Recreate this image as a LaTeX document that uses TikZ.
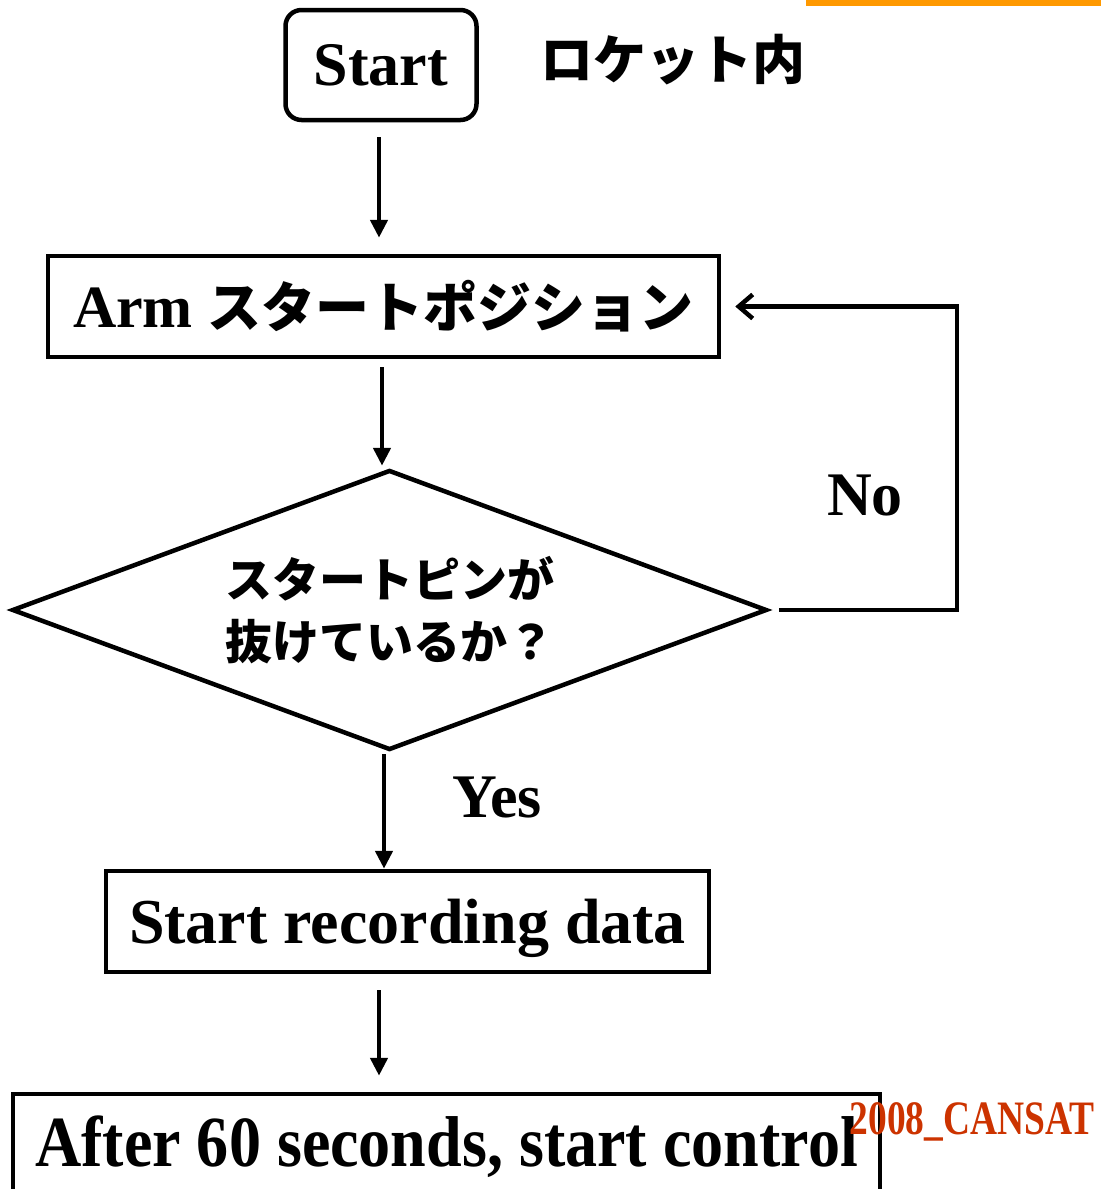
\documentclass[tikz,border=0pt]{standalone}
\usepackage{fontspec}
\setmainfont{Liberation Serif}
\newfontfamily\jp{Noto Sans CJK JP}
\newfontfamily\narrowserif[FakeStretch=0.89]{Liberation Serif}
\newfontfamily\tagserif[FakeStretch=0.78]{Liberation Serif}
\usetikzlibrary{shapes.geometric,arrows.meta}
\definecolor{barorange}{RGB}{255,153,0}
\definecolor{tagred}{RGB}{204,51,0}
\tikzset{
  box/.style={draw,line width=4.5pt,inner sep=0pt,font=\bfseries\fontsize{60}{60}\selectfont},
  flow/.style={line width=4.5pt,-{Triangle[length=18pt,width=17pt]}},
  back/.style={line width=4.5pt,-{Straight Barb[length=14pt,width=24pt,line width=4.5pt]}},
  lbl/.style={inner sep=0pt,font=\bfseries\fontsize{62}{62}\selectfont}
}
\begin{document}
\begin{tikzpicture}[x=1pt,y=-1pt]
\useasboundingbox (0,0) rectangle (1101,1189);
\clip (0,0) rectangle (1101,1189);
\fill[barorange] (806,0) rectangle (1101,6);
\node[box,rounded corners=16pt,minimum width=191pt,minimum height=110pt,font=\bfseries\fontsize{62}{62}\selectfont] (start) at (381,65) {Start};
\node[lbl,font=\jp\bfseries\fontsize{53}{53}\selectfont] (rocket) at (673,60) {ロケット内};
\node[box,minimum width=671pt,minimum height=101pt] (arm) at (383.5,306.5) {Arm {\jp\bfseries\fontsize{54}{54}\selectfont スタートポジション}};
\node[draw,diamond,shape aspect=2.7,line width=4.5pt,inner sep=0pt,minimum width=755pt,minimum height=280pt,align=center,font=\jp\bfseries\fontsize{47}{62}\selectfont] (dec) at (389.5,610) {スタートピンが\\抜けているか？};
\node[lbl] (no) at (865,495) {No};
\node[lbl] (yes) at (497,797) {Yes};
\node[box,minimum width=603pt,minimum height=101pt,text depth=0pt,font=\bfseries\fontsize{64}{64}\selectfont] (rec) at (407.5,921.5) {Start recording data};
\node[draw,line width=4.5pt,inner sep=0pt,minimum width=867pt,minimum height=106pt,font=\narrowserif\bfseries\fontsize{72}{72}\selectfont] (ctrl) at (446.5,1147) {After 60 seconds, start control};
\node[inner sep=0pt,text=tagred,font=\tagserif\bfseries\fontsize{48}{48}\selectfont] (tag) at (972,1122) {2008\_CANSAT};
\draw[flow,shorten <=15pt,shorten >=16pt] (start.south -| 379,0) -- (arm.north -| 379,0);
\draw[flow,shorten <=8pt,shorten >=2pt] (arm.south -| 382,0) -- (dec.north -| 382,0);
\draw[flow,shorten <=2pt,shorten >=0pt] (dec.south -| 384,0) -- (rec.north -| 384,0);
\draw[flow,shorten <=16pt,shorten >=16pt] (rec.south -| 379,0) -- (ctrl.north -| 379,0);
\coordinate (loopstart) at ([xshift=10pt]dec.east);
\coordinate (loopend) at ([xshift=14pt]arm.east);
\draw[back] (loopstart) -- (957,610) |- (loopend);
\end{tikzpicture}
\end{document}
